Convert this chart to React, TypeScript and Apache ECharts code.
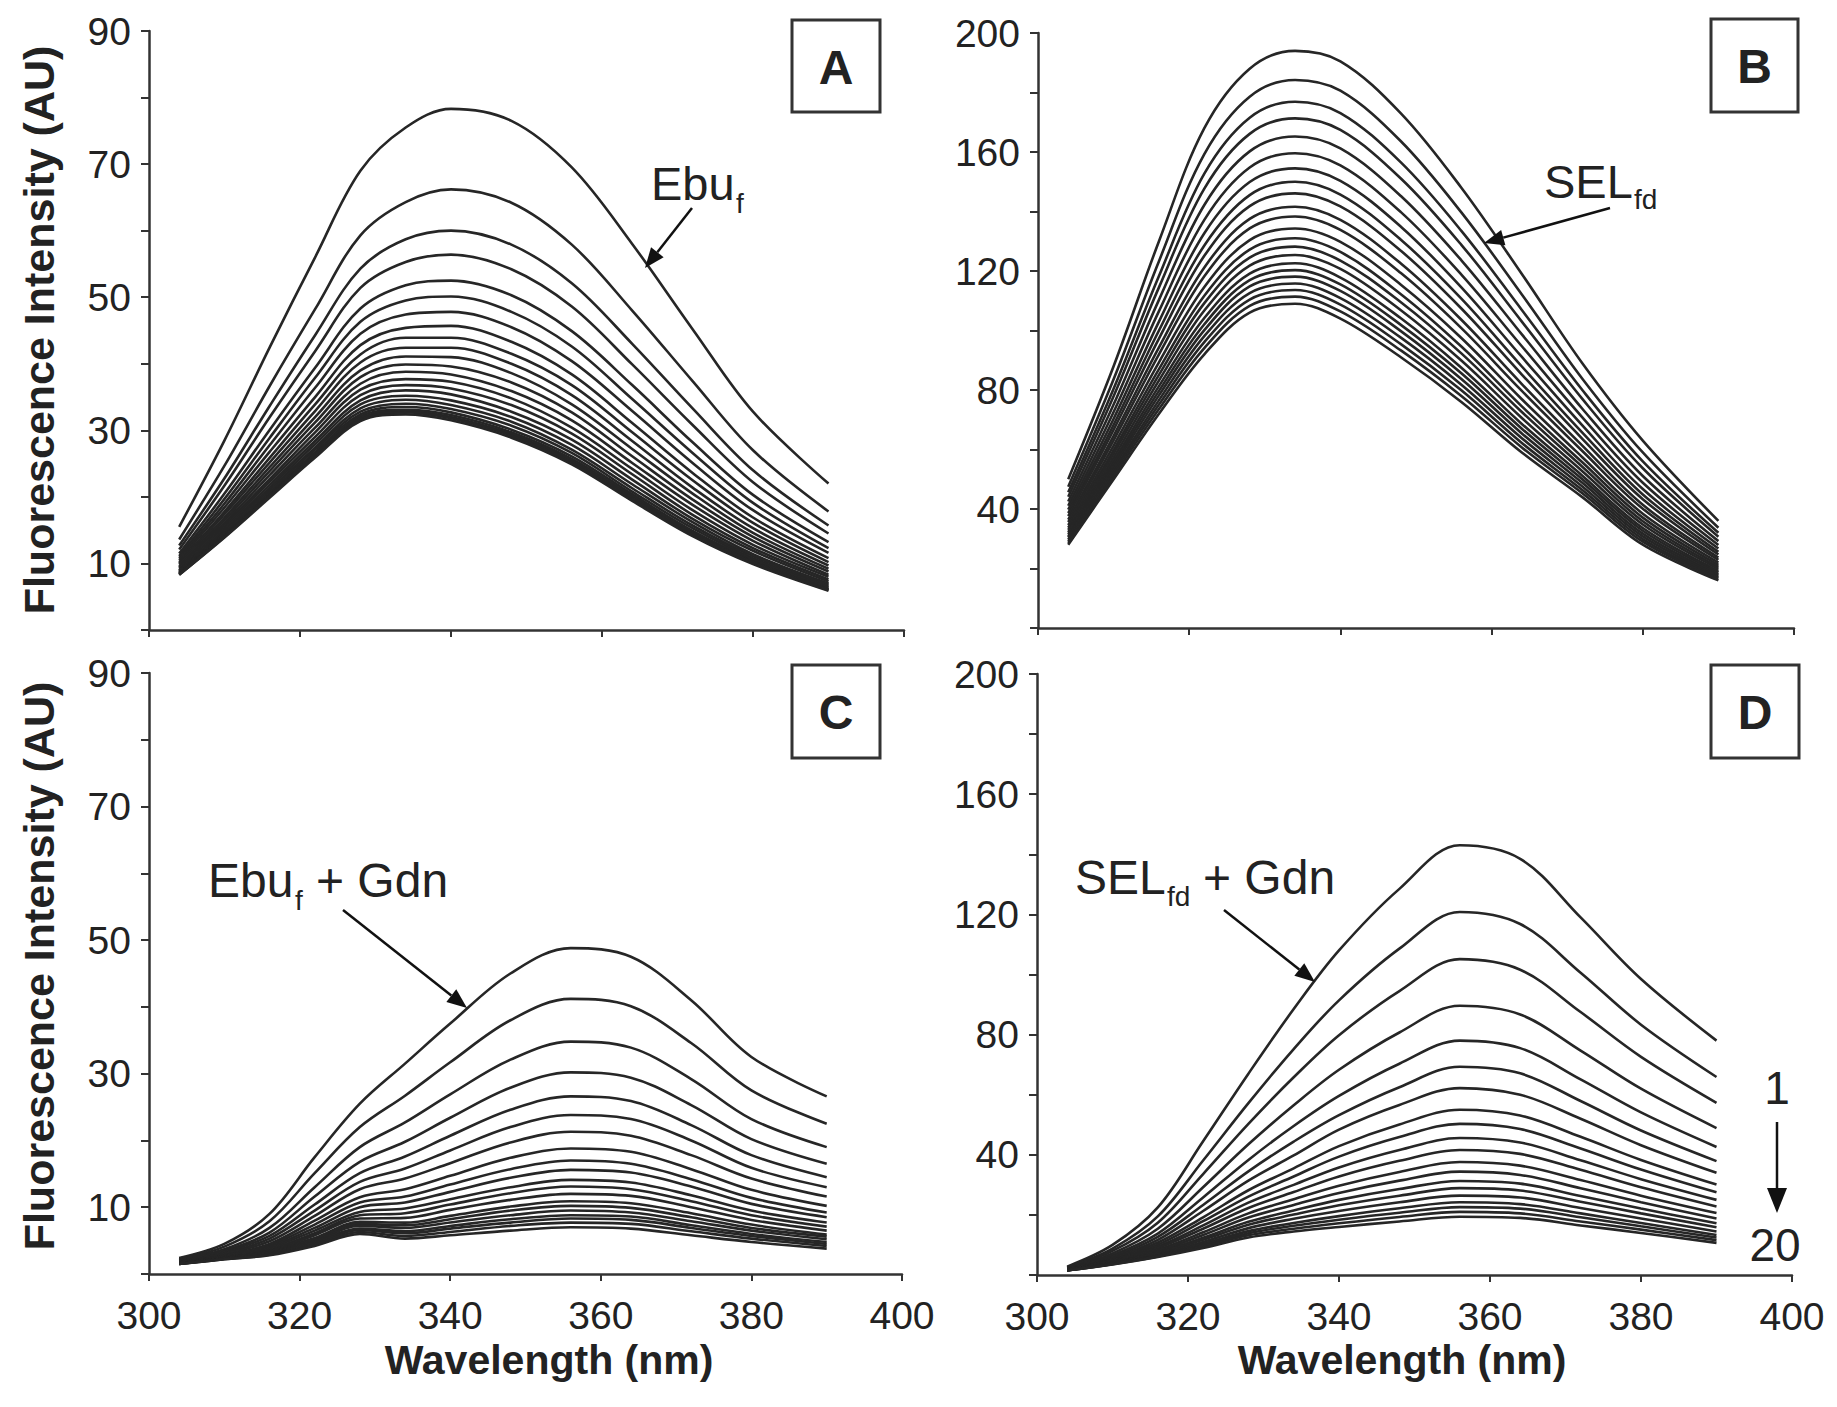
import React, { useEffect, useRef } from "react";
import * as echarts from "echarts";

// Wavelength sampling (nm) shared by all spectra
const WAVELENGTHS = [304, 310, 316, 322, 328, 334, 340, 348, 356, 364, 372, 380, 390];

// Panel A: Ebu_f spectra (curves top -> bottom)
const PANEL_A = [
  [15.5, 28.5, 42.5, 56, 69, 75.5, 78.3, 76.5, 69.5, 58, 45.2, 32.8, 22],
  [13.6, 24.7, 36.7, 48.2, 59.3, 64.3, 66.2, 64.2, 57.9, 48.0, 37.4, 27.0, 17.8],
  [12.7, 22.8, 33.7, 44.3, 54.3, 58.7, 60.0, 57.9, 52.1, 43.0, 33.3, 24.0, 15.7],
  [12.1, 21.7, 32.0, 41.9, 51.4, 55.3, 56.4, 54.2, 48.6, 39.9, 30.8, 22.2, 14.5],
  [11.5, 20.5, 30.1, 39.4, 48.3, 51.8, 52.5, 50.3, 44.9, 36.8, 28.2, 20.3, 13.2],
  [11.1, 19.7, 28.9, 37.9, 46.3, 49.5, 50.1, 47.8, 42.6, 34.7, 26.6, 19.1, 12.3],
  [10.8, 19.0, 27.8, 36.4, 44.5, 47.4, 47.8, 45.5, 40.4, 32.9, 25.1, 18.0, 11.6],
  [10.5, 18.4, 26.8, 35.0, 42.8, 45.4, 45.7, 43.3, 38.4, 31.1, 23.6, 16.9, 10.8],
  [10.2, 17.8, 25.9, 33.9, 41.4, 43.9, 43.9, 41.5, 36.8, 29.7, 22.5, 16.1, 10.2],
  [10.0, 17.4, 25.2, 32.9, 40.2, 42.4, 42.4, 40.0, 35.3, 28.4, 21.4, 15.3, 9.7],
  [9.8, 16.9, 24.5, 32.0, 39.0, 41.1, 41.0, 38.6, 33.9, 27.2, 20.5, 14.6, 9.2],
  [9.5, 16.5, 23.9, 31.2, 38.0, 39.9, 39.6, 37.2, 32.7, 26.1, 19.6, 14.0, 8.8],
  [9.4, 16.1, 23.3, 30.4, 37.0, 38.8, 38.4, 35.9, 31.5, 25.1, 18.8, 13.4, 8.3],
  [9.2, 15.8, 22.7, 29.7, 36.1, 37.7, 37.3, 34.8, 30.4, 24.2, 18.0, 12.8, 8.0],
  [9.0, 15.5, 22.3, 29.0, 35.3, 36.8, 36.3, 33.8, 29.5, 23.4, 17.3, 12.3, 7.6],
  [8.9, 15.2, 21.8, 28.4, 34.5, 36.0, 35.4, 32.8, 28.6, 22.6, 16.7, 11.9, 7.3],
  [8.8, 14.9, 21.4, 27.9, 33.9, 35.2, 34.5, 32.0, 27.8, 21.9, 16.2, 11.4, 7.0],
  [8.6, 14.7, 21.1, 27.4, 33.3, 34.6, 33.8, 31.3, 27.1, 21.3, 15.7, 11.1, 6.8],
  [8.6, 14.5, 20.8, 27.1, 32.8, 34.0, 33.2, 30.7, 26.6, 20.8, 15.3, 10.8, 6.6],
  [8.5, 14.3, 20.5, 26.7, 32.4, 33.5, 32.7, 30.1, 26.1, 20.4, 14.9, 10.6, 6.4],
  [8.4, 14.2, 20.3, 26.5, 32.1, 33.1, 32.3, 29.7, 25.7, 20.1, 14.7, 10.3, 6.2],
  [8.4, 14.1, 20.2, 26.3, 31.8, 32.9, 32.0, 29.4, 25.4, 19.8, 14.5, 10.2, 6.1],
  [8.3, 14.0, 20.1, 26.1, 31.6, 32.7, 31.8, 29.2, 25.2, 19.6, 14.3, 10.1, 6.0],
  [8.3, 13.9, 19.9, 25.9, 31.4, 32.4, 31.5, 28.9, 24.9, 19.4, 14.1, 9.9, 5.9],
];

// Panel B: SEL_fd spectra
const PANEL_B = [
  [50, 88, 130, 168, 188, 194, 190.5, 173, 148, 119, 89, 63, 36],
  [47.5, 83.6, 123.3, 159.3, 178.6, 184.2, 180.6, 163.6, 139.7, 112.1, 83.8, 59.0, 33.7],
  [45.6, 80.4, 118.3, 152.7, 171.5, 176.9, 173.1, 156.5, 133.5, 106.9, 80.0, 56.0, 32.0],
  [44.1, 77.9, 114.5, 147.7, 166.1, 171.3, 167.4, 151.1, 128.8, 103.0, 77.0, 53.7, 30.7],
  [42.5, 75.1, 110.3, 142.2, 160.2, 165.2, 161.2, 145.2, 123.6, 98.7, 73.7, 51.1, 29.2],
  [41.1, 72.6, 106.5, 137.2, 154.8, 159.6, 155.5, 139.8, 118.8, 94.7, 70.8, 48.8, 27.9],
  [39.8, 70.3, 103.0, 132.7, 149.9, 154.5, 150.3, 134.9, 114.5, 91.1, 68.1, 46.7, 26.7],
  [38.6, 68.3, 100.0, 128.6, 145.5, 150.0, 145.7, 130.5, 110.7, 87.9, 65.7, 44.9, 25.6],
  [37.6, 66.6, 97.3, 125.1, 141.8, 146.1, 141.7, 126.8, 107.4, 85.2, 63.6, 43.3, 24.7],
  [36.4, 64.6, 94.3, 121.2, 137.5, 141.6, 137.2, 122.5, 103.6, 82.0, 61.3, 41.4, 23.7],
  [35.6, 63.1, 92.0, 118.2, 134.3, 138.3, 133.8, 119.3, 100.8, 79.7, 59.5, 40.1, 22.9],
  [34.6, 61.3, 89.3, 114.6, 130.4, 134.3, 129.8, 115.4, 97.5, 76.9, 57.4, 38.4, 22.0],
  [33.7, 59.8, 87.0, 111.7, 127.2, 131.0, 126.4, 112.2, 94.6, 74.5, 55.7, 37.1, 21.2],
  [33.0, 58.6, 85.1, 109.2, 124.5, 128.2, 123.5, 109.5, 92.3, 72.6, 54.2, 35.9, 20.5],
  [32.2, 57.3, 83.2, 106.7, 121.8, 125.4, 120.7, 106.8, 89.9, 70.6, 52.7, 34.8, 19.9],
  [31.5, 56.1, 81.3, 104.2, 119.1, 122.6, 117.8, 104.1, 87.5, 68.6, 51.2, 33.6, 19.2],
  [30.9, 55.1, 79.7, 102.1, 116.9, 120.3, 115.5, 101.9, 85.6, 67.0, 50.0, 32.7, 18.7],
  [30.4, 54.1, 78.2, 100.1, 114.8, 118.1, 113.3, 99.8, 83.7, 65.4, 48.8, 31.7, 18.1],
  [29.8, 53.0, 76.6, 98.1, 112.6, 115.8, 110.9, 97.6, 81.8, 63.8, 47.6, 30.8, 17.6],
  [29.2, 52.1, 75.1, 96.1, 110.4, 113.6, 108.7, 95.4, 79.9, 62.2, 46.4, 29.9, 17.1],
  [28.6, 51.1, 73.6, 94.1, 108.3, 111.4, 106.4, 93.3, 78.0, 60.7, 45.3, 29.0, 16.6],
  [28, 50, 72, 92, 106, 109, 104, 91, 76, 59, 44, 28, 16],
];

// Panel C: Ebu_f + Gdn spectra
const PANEL_C = [
  [2.4, 4.5, 9, 17.5, 25.5, 31.5, 37.5, 45, 48.8, 47.5, 41, 32.5, 26.6],
  [2.2, 4.1, 7.9, 15.1, 22.0, 26.7, 31.7, 38.0, 41.2, 40.1, 34.6, 27.5, 22.5],
  [2.1, 3.7, 6.9, 13.0, 19.0, 22.7, 26.9, 32.1, 34.8, 33.9, 29.2, 23.2, 19.0],
  [2.0, 3.5, 6.2, 11.6, 16.8, 19.8, 23.4, 27.9, 30.2, 29.4, 25.3, 20.2, 16.5],
  [1.9, 3.3, 5.7, 10.4, 15.1, 17.6, 20.7, 24.6, 26.6, 25.9, 22.3, 17.8, 14.5],
  [1.9, 3.1, 5.3, 9.5, 13.8, 15.8, 18.5, 22.0, 23.8, 23.2, 20.0, 15.9, 13.0],
  [1.8, 3.0, 4.9, 8.7, 12.7, 14.3, 16.6, 19.7, 21.3, 20.7, 17.8, 14.3, 11.6],
  [1.8, 2.8, 4.5, 8.0, 11.5, 12.7, 14.7, 17.4, 18.8, 18.3, 15.7, 12.6, 10.2],
  [1.7, 2.7, 4.3, 7.4, 10.7, 11.6, 13.4, 15.7, 17.0, 16.5, 14.2, 11.4, 9.2],
  [1.7, 2.7, 4.1, 6.9, 10.0, 10.7, 12.3, 14.4, 15.6, 15.2, 13.1, 10.5, 8.5],
  [1.7, 2.6, 3.9, 6.5, 9.3, 9.8, 11.2, 13.0, 14.1, 13.7, 11.8, 9.5, 7.7],
  [1.6, 2.5, 3.7, 6.1, 8.8, 9.1, 10.4, 12.1, 13.1, 12.7, 10.9, 8.8, 7.1],
  [1.6, 2.5, 3.5, 5.8, 8.3, 8.4, 9.6, 11.1, 12.0, 11.7, 10.0, 8.1, 6.5],
  [1.6, 2.4, 3.4, 5.4, 7.8, 7.7, 8.7, 10.1, 10.9, 10.6, 9.1, 7.4, 5.9],
  [1.6, 2.4, 3.3, 5.2, 7.5, 7.3, 8.2, 9.5, 10.2, 9.9, 8.5, 6.9, 5.6],
  [1.6, 2.3, 3.2, 5.0, 7.2, 6.9, 7.7, 8.8, 9.5, 9.2, 7.9, 6.5, 5.2],
  [1.5, 2.3, 3.1, 4.8, 6.8, 6.4, 7.2, 8.2, 8.8, 8.6, 7.3, 6.0, 4.8],
  [1.5, 2.3, 3.0, 4.6, 6.6, 6.1, 6.8, 7.7, 8.3, 8.1, 6.9, 5.7, 4.5],
  [1.5, 2.2, 2.9, 4.4, 6.3, 5.7, 6.3, 7.2, 7.7, 7.5, 6.4, 5.3, 4.2],
  [1.5, 2.2, 2.8, 4.2, 6.0, 5.3, 5.8, 6.5, 7.0, 6.8, 5.8, 4.8, 3.8],
];

// Panel D: SEL_fd + Gdn spectra (1 -> 20)
const PANEL_D = [
  [2.8, 10, 22.5, 44.5, 67, 88.5, 108, 128.5, 143, 138.5, 119, 98.5, 78],
  [2.6, 8.8, 19.5, 38.1, 57.2, 75.2, 91.4, 108.6, 120.8, 116.8, 100.6, 83.3, 65.9],
  [2.4, 8.0, 17.4, 33.6, 50.3, 65.8, 79.8, 94.5, 105.1, 101.6, 87.5, 72.6, 57.3],
  [2.2, 7.2, 15.4, 29.2, 43.5, 56.5, 68.3, 80.7, 89.6, 86.7, 74.7, 62.0, 48.9],
  [2.1, 6.6, 13.8, 25.8, 38.3, 49.6, 59.6, 70.3, 78.0, 75.5, 65.1, 54.1, 42.6],
  [2.0, 6.1, 12.7, 23.3, 34.5, 44.4, 53.2, 62.5, 69.3, 67.1, 57.9, 48.1, 37.9],
  [2.0, 5.7, 11.7, 21.3, 31.4, 39.8, 48.4, 56.6, 62.2, 60.0, 52.0, 43.2, 34.0],
  [1.9, 5.4, 10.8, 19.2, 28.2, 35.5, 42.9, 50.1, 55.0, 53.1, 46.0, 38.3, 30.1],
  [1.8, 5.1, 10.1, 17.9, 26.1, 32.8, 39.4, 45.9, 50.3, 48.6, 42.1, 35.1, 27.5],
  [1.8, 4.9, 9.5, 16.5, 24.1, 30.0, 35.8, 41.6, 45.6, 44.1, 38.2, 31.9, 25.0],
  [1.7, 4.7, 9.0, 15.4, 22.3, 27.6, 32.8, 38.0, 41.6, 40.3, 35.0, 29.2, 22.8],
  [1.7, 4.5, 8.4, 14.2, 20.5, 25.2, 29.7, 34.3, 37.6, 36.4, 31.6, 26.4, 20.6],
  [1.7, 4.3, 8.0, 13.3, 19.1, 23.3, 27.3, 31.4, 34.4, 33.3, 28.9, 24.2, 18.8],
  [1.6, 4.1, 7.6, 12.4, 17.7, 21.5, 25.0, 28.6, 31.3, 30.4, 26.3, 22.1, 17.2],
  [1.6, 4.0, 7.3, 11.7, 16.7, 20.1, 23.2, 26.4, 28.9, 28.1, 24.4, 20.5, 15.9],
  [1.6, 3.9, 6.9, 11.0, 15.6, 18.7, 21.3, 24.2, 26.4, 25.8, 22.3, 18.8, 14.5],
  [1.6, 3.8, 6.6, 10.4, 14.6, 17.3, 19.6, 22.2, 24.2, 23.6, 20.5, 17.3, 13.3],
  [1.5, 3.7, 6.4, 9.9, 13.9, 16.4, 18.4, 20.7, 22.6, 22.1, 19.2, 16.2, 12.5],
  [1.5, 3.6, 6.2, 9.5, 13.2, 15.4, 17.2, 19.3, 21.0, 20.5, 17.8, 15.1, 11.6],
  [1.5, 3.5, 6.0, 9.0, 12.5, 14.5, 16.0, 17.8, 19.4, 19.0, 16.5, 14.0, 10.7],
];

const X_MIN = 300;
const X_MAX = 400;
const X_STEP = 20;
const Y_LEFT_MAX = 90;
const Y_LEFT_STEP = 10;
const Y_RIGHT_MAX = 200;
const Y_RIGHT_STEP = 20;

const FONT = "'Liberation Sans', Arial, Helvetica, sans-serif";
const INK = "#222";
const AXIS = "#333";

function txt(text: string, x: number, y: number, size: number, opts: any = {}) {
  return {
    type: "text",
    x,
    y,
    rotation: opts.rotation || 0,
    z: 100,
    style: {
      text,
      fontSize: size,
      fontFamily: FONT,
      fontWeight: opts.bold ? "bold" : "normal",
      fill: INK,
      align: opts.align || "left",
      verticalAlign: "middle",
      textAlign: opts.align || "left",
      textVerticalAlign: "middle",
    },
  };
}

function arrow(x1: number, y1: number, x2: number, y2: number, headLen = 20, headHalf = 8) {
  const dx = x2 - x1;
  const dy = y2 - y1;
  const len = Math.sqrt(dx * dx + dy * dy);
  const ux = dx / len;
  const uy = dy / len;
  const bx = x2 - ux * headLen;
  const by = y2 - uy * headLen;
  const nx = -uy;
  const ny = ux;
  return [
    {
      type: "line",
      z: 100,
      shape: { x1, y1, x2: bx, y2: by },
      style: { stroke: "#111", lineWidth: 2.5 },
    },
    {
      type: "polygon",
      z: 100,
      shape: {
        points: [
          [x2, y2],
          [bx + nx * headHalf, by + ny * headHalf],
          [bx - nx * headHalf, by - ny * headHalf],
        ],
      },
      style: { fill: "#111" },
    },
  ];
}

function box(x: number, y: number, w: number, h: number, letter: string) {
  return [
    {
      type: "rect",
      z: 100,
      shape: { x, y, width: w, height: h },
      style: { fill: "#fff", stroke: AXIS, lineWidth: 3 },
    },
    txt(letter, x + w / 2, y + h / 2 + 1, 48, { bold: true, align: "center" }),
  ];
}

export default function App() {
  const ref = useRef<HTMLDivElement>(null);

  useEffect(() => {
    if (!ref.current) return;
    const chart = echarts.init(ref.current, undefined, { renderer: "svg" });

    const grids = [
      { left: 149, top: 31, width: 755, height: 599 },
      { left: 1038, top: 33, width: 756, height: 595 },
      { left: 149, top: 673, width: 753, height: 601 },
      { left: 1037, top: 674, width: 755, height: 601 },
    ];

    const xAxis = [0, 1, 2, 3].map((i) => ({
      type: "value",
      gridIndex: i,
      min: X_MIN,
      max: X_MAX,
      interval: X_STEP,
      axisLine: { show: true, onZero: false, lineStyle: { color: AXIS, width: 2.5 } },
      axisTick: { show: true, inside: false, length: 7, lineStyle: { color: AXIS, width: 2 } },
      axisLabel: {
        show: i >= 2,
        fontSize: 39,
        fontFamily: FONT,
        color: INK,
        margin: 22,
      },
      splitLine: { show: false },
    }));

    const leftFmt = (v: number) => (v % 20 === 10 ? String(v) : "");
    const rightFmt = (v: number) => (v > 0 && v % 40 === 0 ? String(v) : "");

    const yAxis = [0, 1, 2, 3].map((i) => {
      const left = i % 2 === 0;
      return {
        type: "value",
        gridIndex: i,
        min: 0,
        max: left ? Y_LEFT_MAX : Y_RIGHT_MAX,
        interval: left ? Y_LEFT_STEP : Y_RIGHT_STEP,
        axisLine: { show: true, onZero: false, lineStyle: { color: AXIS, width: 2.5 } },
        axisTick: { show: true, inside: false, length: 8, lineStyle: { color: AXIS, width: 2 } },
        axisLabel: {
          show: true,
          fontSize: 39,
          fontFamily: FONT,
          color: INK,
          margin: 18,
          formatter: left ? leftFmt : rightFmt,
        },
        splitLine: { show: false },
      };
    });

    const panels = [PANEL_A, PANEL_B, PANEL_C, PANEL_D];
    const series: any[] = [];
    panels.forEach((rows, p) => {
      rows.forEach((row, k) => {
        series.push({
          type: "line",
          name: `P${p}-${k + 1}`,
          xAxisIndex: p,
          yAxisIndex: p,
          data: WAVELENGTHS.map((w, j) => [w, row[j]]),
          showSymbol: false,
          symbol: "none",
          smooth: 0.35,
          silent: true,
          lineStyle: { color: "#262626", width: 2.6 },
        });
      });
    });

    const elements: any[] = [
      ...box(792, 20, 88, 92, "A"),
      ...box(1711, 19, 87, 93, "B"),
      ...box(792, 665, 88, 93, "C"),
      ...box(1711, 665, 88, 93, "D"),
      txt("Fluorescence Intensity (AU)", 39, 330, 43, { bold: true, align: "center", rotation: Math.PI / 2 }),
      txt("Fluorescence Intensity (AU)", 39, 966, 43, { bold: true, align: "center", rotation: Math.PI / 2 }),
      txt("Wavelength (nm)", 549, 1360, 41, { bold: true, align: "center" }),
      txt("Wavelength (nm)", 1402, 1360, 41, { bold: true, align: "center" }),
      // A annotation
      txt("Ebu", 651, 183, 47),
      txt("f", 736, 203, 28),
      ...arrow(692, 208, 645, 268),
      // B annotation
      txt("SEL", 1544, 181, 47),
      txt("fd", 1634, 199, 28),
      ...arrow(1610, 208, 1484, 243),
      // C annotation
      txt("Ebu", 208, 880, 48),
      txt("f", 295, 900, 28),
      txt("+ Gdn", 316, 880, 48),
      ...arrow(343, 910, 467, 1008),
      // D annotation
      txt("SEL", 1075, 877, 48),
      txt("fd", 1167, 896, 28),
      txt("+ Gdn", 1203, 877, 48),
      ...arrow(1224, 910, 1315, 982),
      // 1 -> 20
      txt("1", 1777, 1088, 46, { align: "center" }),
      ...arrow(1777, 1122, 1777, 1213, 25, 10),
      txt("20", 1775, 1245, 46, { align: "center" }),
    ];

    chart.setOption({
      animation: false,
      backgroundColor: "#fff",
      grid: grids,
      xAxis,
      yAxis,
      series,
      graphic: { elements },
    });

    return () => chart.dispose();
  }, []);

  return (
    <div
      ref={ref}
      style={{ position: "absolute", left: 0, top: 0, width: "1837px", height: "1407px", background: "#fff" }}
    />
  );
}
